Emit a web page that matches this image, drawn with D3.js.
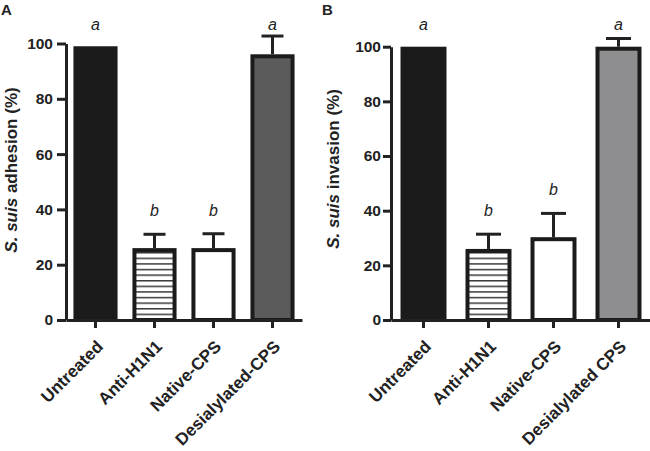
<!DOCTYPE html>
<html>
<head>
<meta charset="utf-8">
<script src="https://cdn.jsdelivr.net/npm/d3@7"></script>
<style>
  html, body { margin: 0; padding: 0; background: #fff; }
  svg { display: block; font-family: "Liberation Sans", Arial, sans-serif; }
</style>
</head>
<body>
<svg id="chart" width="650" height="451"></svg>
<script>
// ---- data ----
const categoriesA = ["Untreated", "Anti-H1N1", "Native-CPS", "Desialylated-CPS"];
const categoriesB = ["Untreated", "Anti-H1N1", "Native-CPS", "Desialylated CPS"];
const adhesionMean = [99, 26, 26, 96.1];
const adhesionSEM  = [0, 5, 5.2, 6.6];
const invasionMean = [100, 26, 30.3, 100];
const invasionSEM  = [0, 5.4, 8.7, 3];
const lettersA = ["a", "b", "b", "a"];
const lettersB = ["a", "b", "b", "a"];
const yTickValues = [0, 20, 40, 60, 80, 100];
const fillKinds = ["solid", "stripes", "open", "grey"];

const svg = d3.select("#chart");
svg.append("rect").attr("width", 650).attr("height", 451).attr("fill", "#fff");

const defs = svg.append("defs");
const pat = defs.append("pattern")
  .attr("id", "stripes").attr("patternUnits", "userSpaceOnUse")
  .attr("width", 10).attr("height", 5.6);
pat.append("rect").attr("width", 10).attr("height", 5.6).attr("fill", "#fff");
pat.append("rect").attr("y", 0).attr("width", 10).attr("height", 1.5).attr("fill", "#3a3a3a");

function panel(cfg) {
  const g = svg.append("g");
  const y = d3.scaleLinear().domain([0, 100]).range([cfg.y0, cfg.y100]);
  const x = d3.scaleBand().domain(cfg.cats).range([cfg.xl, cfg.xr])
    .paddingInner(cfg.pin).paddingOuter(cfg.pout);

  // y axis
  const ya = g.append("g").attr("transform", `translate(${cfg.xl},0)`)
    .call(d3.axisLeft(y).tickValues(yTickValues).tickSize(cfg.tick).tickSizeOuter(0).tickPadding(cfg.tpad));
  ya.select(".domain").attr("stroke", "#222").attr("stroke-width", 3);
  ya.selectAll(".tick line").attr("stroke", "#222").attr("stroke-width", 3);
  ya.selectAll(".tick text").attr("font-size", 15.5).attr("font-weight", "bold").attr("fill", "#222")
    .attr("font-family", "Liberation Sans, Arial, sans-serif");

  // bars
  const sw = 4;
  cfg.cats.forEach((c, i) => {
    const m = cfg.mean[i], s = cfg.sem[i];
    const cx = x(c) + x.bandwidth() / 2;
    if (s > 0) {
      g.append("line").attr("x1", cx).attr("x2", cx).attr("y1", y(m)).attr("y2", y(m + s))
        .attr("stroke", "#222").attr("stroke-width", 3);
      g.append("line").attr("x1", cx - cfg.cap / 2).attr("x2", cx + cfg.cap / 2)
        .attr("y1", y(m + s)).attr("y2", y(m + s))
        .attr("stroke", "#222").attr("stroke-width", 3);
    }
    const kind = fillKinds[i];
    const fill = kind === "solid" ? "#1b1b1b" : kind === "stripes" ? "url(#stripes)"
      : kind === "open" ? "#fff" : cfg.grey;
    g.append("rect")
      .attr("x", x(c)).attr("width", x.bandwidth())
      .attr("y", y(m) + sw / 2).attr("height", y(0) - y(m) - sw / 2)
      .attr("fill", fill).attr("stroke", "#1b1b1b").attr("stroke-width", sw);
    const top = y(m + s);
    const ly = Math.max(top - 18, cfg.letterTop);
    g.append("text").attr("x", cx).attr("y", ly).attr("text-anchor", "middle")
      .attr("font-size", 16).attr("font-style", "italic").attr("fill", "#222")
      .text(cfg.letters[i]);
  });

  // x axis
  const xa = g.append("g").attr("transform", `translate(0,${cfg.y0})`)
    .call(d3.axisBottom(x).tickSize(8).tickSizeOuter(0).tickPadding(0));
  xa.select(".domain").attr("stroke", "#222").attr("stroke-width", 3);
  xa.selectAll(".tick line").attr("stroke", "#222").attr("stroke-width", 3);
  xa.selectAll(".tick text")
    .attr("font-size", 17).attr("font-weight", "bold").attr("fill", "#222")
    .attr("font-family", "Liberation Sans, Arial, sans-serif")
    .attr("text-anchor", "end")
    .attr("dy", null)
    .attr("transform", "translate(3,22) rotate(-45)");

  // y label
  const yl = g.append("text")
    .attr("transform", `translate(${cfg.ylx},${cfg.ylc}) rotate(-90)`)
    .attr("text-anchor", "middle").attr("font-size", 17).attr("font-weight", "bold").attr("fill", "#222");
  yl.append("tspan").attr("font-style", "italic").text("S. suis");
  yl.append("tspan").text(" " + cfg.ylabel);

  // panel letter
  g.append("text").attr("x", cfg.px).attr("y", 15).attr("font-size", 15).attr("font-weight", "bold")
    .attr("fill", "#222").text(cfg.panel);
}

panel({
  panel: "A", px: 1, cats: categoriesA, mean: adhesionMean, sem: adhesionSEM, letters: lettersA,
  y0: 320, y100: 43.5, xl: 66, xr: 302, pin: 0.32, pout: 0.16, cap: 22, tick: 9, tpad: 4,
  grey: "#5b5b5b", ylx: 17, ylc: 170, ylabel: "adhesion (%)", letterTop: 30
});
panel({
  panel: "B", px: 322, cats: categoriesB, mean: invasionMean, sem: invasionSEM, letters: lettersB,
  y0: 320, y100: 46.7, xl: 391, xr: 651, pin: 0.354, pout: 0.177, cap: 25, tick: 8, tpad: 2,
  grey: "#8e8e90", ylx: 339, ylc: 169, ylabel: "invasion (%)", letterTop: 30
});
</script>
</body>
</html>
